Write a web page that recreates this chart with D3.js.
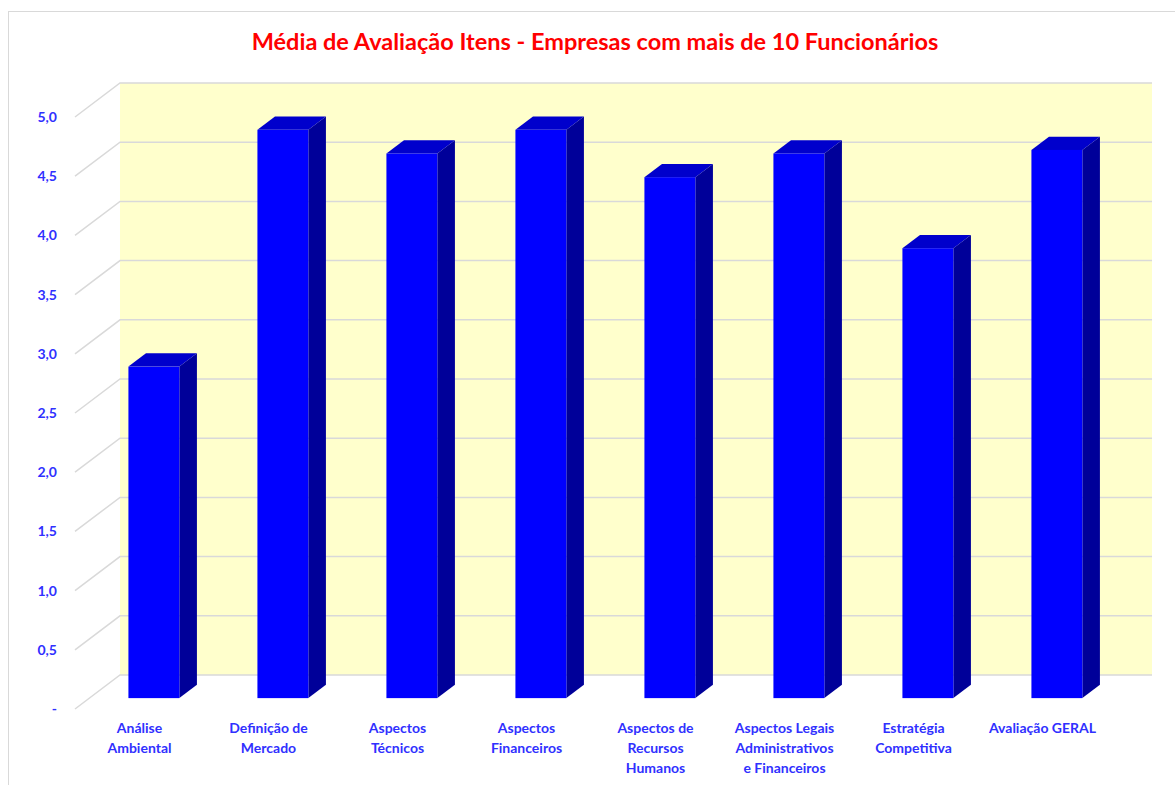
<!DOCTYPE html>
<html><head><meta charset="utf-8">
<script src="https://cdn.jsdelivr.net/npm/d3@7"></script>
<style>body{margin:0;background:#fff}svg{display:block}</style>
</head><body>
<svg id="c" width="1175" height="785"></svg>
<script>
const title = "Média de Avaliação Itens - Empresas com mais de 10 Funcionários";
const categories = [
  ["Análise","Ambiental"],
  ["Definição de","Mercado"],
  ["Aspectos","Técnicos"],
  ["Aspectos","Financeiros"],
  ["Aspectos de","Recursos","Humanos"],
  ["Aspectos Legais","Administrativos","e Financeiros"],
  ["Estratégia","Competitiva"],
  ["Avaliação GERAL"]
];
const values = [2.8, 4.8, 4.6, 4.8, 4.4, 4.6, 3.8, 4.63];
const yTicks = [0,0.5,1,1.5,2,2.5,3,3.5,4,4.5,5];
const yTickLabels = ["-","0,5","1,0","1,5","2,0","2,5","3,0","3,5","4,0","4,5","5,0"];

const svg = d3.select("#c");
const font = "Lato, 'Open Sans', sans-serif";
const blueText = "#3030ff";

// outer border
svg.append("rect").attr("x",8.5).attr("y",11.5).attr("width",1200).attr("height",800)
  .attr("fill","none").attr("stroke","#d9d9d9");

// front plane scales
const x = d3.scaleBand().domain(d3.range(categories.length)).range([75,1107]).padding(0);
const y = d3.scaleLinear().domain([0,5]).range([709,117]);
const DX = 45, DY = -34; // full depth offset
const off = d => [DX*d, DY*d];

// back wall
const [bx,by] = off(1);
svg.append("rect").attr("x",x.range()[0]+bx).attr("y",y(5)+by)
  .attr("width",x.range()[1]-x.range()[0]).attr("height",y(0)-y(5))
  .attr("fill","#ffffcc");

// gridlines: wall + side diagonals
const g = svg.append("g").attr("stroke","#d9d9d9").attr("stroke-width",1.5).attr("fill","none");
yTicks.forEach(t=>{
  g.append("path").attr("d",
    `M${x.range()[0]},${y(t)}L${x.range()[0]+bx},${y(t)+by}L${x.range()[1]+bx},${y(t)+by}`);
});

// y labels
svg.append("g").selectAll("text").data(yTicks).join("text")
  .attr("x",57).attr("y",t=>y(t)).attr("dy","0.35em").attr("text-anchor","end")
  .attr("font-family",font).attr("font-weight","bold").attr("font-size",14)
  .attr("fill",blueText).text((t,i)=>yTickLabels[i]);

// bars
const d0 = 0.32, d1 = 0.71;
const bw = x.bandwidth()*0.395;
const bars = svg.append("g");
values.forEach((v,i)=>{
  const [fx,fy] = off(d0);
  const [kx,ky] = off(d1);
  const ddx = kx-fx, ddy = ky-fy;
  const x0 = x(i)+x.bandwidth()/2-bw/2+fx, x1 = x0+bw;
  const yb = y(0)+fy, yt = y(v)+fy;
  bars.append("path").attr("d",`M${x1},${yt}L${x1+ddx},${yt+ddy}L${x1+ddx},${yb+ddy}L${x1},${yb}Z`)
    .attr("fill","#000099");
  bars.append("path").attr("d",`M${x0},${yt}L${x0+ddx},${yt+ddy}L${x1+ddx},${yt+ddy}L${x1},${yt}Z`)
    .attr("fill","#0000cc");
  bars.append("rect").attr("x",x0).attr("y",yt).attr("width",bw).attr("height",yb-yt)
    .attr("fill","#0000ff");
});

// x labels
const xl = svg.append("g");
categories.forEach((lines,i)=>{
  const t = xl.append("text").attr("x",x(i)+x.bandwidth()/2).attr("y",733)
    .attr("text-anchor","middle").attr("font-family",font).attr("font-weight","bold")
    .attr("font-size",14).attr("fill",blueText);
  lines.forEach((l,j)=>t.append("tspan").attr("x",x(i)+x.bandwidth()/2).attr("dy",j?20:0).text(l));
});

// title
svg.append("text").attr("x",595).attr("y",50).attr("text-anchor","middle")
  .attr("font-family",font).attr("font-weight","bold").attr("font-size",23.5)
  .attr("fill","#ff0000").text(title);
</script>
</body></html>
